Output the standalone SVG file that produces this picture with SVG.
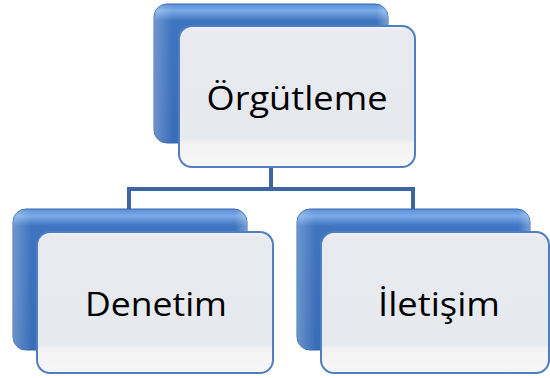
<svg xmlns="http://www.w3.org/2000/svg" width="550" height="378" viewBox="0 0 550 378">
<defs>
<linearGradient id="blueG" x1="0" y1="0" x2="0" y2="1">
<stop offset="0" stop-color="#5b8fd6"/>
<stop offset="0.05" stop-color="#7aaae6"/>
<stop offset="0.12" stop-color="#3f74c0"/>
<stop offset="1" stop-color="#3a6db8"/>
</linearGradient>
<linearGradient id="blueH" x1="0" y1="0" x2="1" y2="0">
<stop offset="0" stop-color="#ffffff" stop-opacity="0.25"/>
<stop offset="0.08" stop-color="#ffffff" stop-opacity="0"/>
<stop offset="0.95" stop-color="#ffffff" stop-opacity="0"/>
<stop offset="1" stop-color="#ffffff" stop-opacity="0.3"/>
</linearGradient>
<linearGradient id="frontG" x1="0" y1="0" x2="0" y2="1">
<stop offset="0" stop-color="#f2f3f6"/>
<stop offset="0.04" stop-color="#e8eaef"/>
<stop offset="0.8" stop-color="#e6e9ee"/>
<stop offset="0.83" stop-color="#f3f3f4"/>
<stop offset="1" stop-color="#f7f7f7"/>
</linearGradient>
</defs>
<style>
.back{fill:url(#blueG);stroke:#3567b0;stroke-width:1}
.backh{fill:url(#blueH);stroke:none}
.front{fill:url(#frontG);stroke:#4f7fc2;stroke-width:2}
.lbl{font-family:"Open Sans","Liberation Sans",sans-serif;font-size:32px;fill:#000;text-anchor:middle}
.conn{fill:none;stroke:#3e659f;stroke-width:4}
</style>
<g id="connectors">
<path class="conn" d="M271,167 V189 H129 V210"/>
<path class="conn" d="M271,189 H413 V210"/>
</g>
<g id="node-orgutleme">
<rect class="back" x="154" y="4" width="234" height="139" rx="13"/>
<rect class="backh" x="154" y="4" width="234" height="139" rx="13"/>
<rect class="front" x="179" y="26" width="236" height="141" rx="13"/>
<text class="lbl" x="297" y="110" textLength="181" lengthAdjust="spacingAndGlyphs">Örgütleme</text>
</g>
<g id="node-denetim">
<rect class="back" x="13" y="209" width="234" height="141" rx="13"/>
<rect class="backh" x="13" y="209" width="234" height="141" rx="13"/>
<rect class="front" x="37" y="232" width="236" height="141" rx="13"/>
<text class="lbl" x="156" y="316" textLength="142" lengthAdjust="spacingAndGlyphs">Denetim</text>
</g>
<g id="node-iletisim">
<rect class="back" x="297" y="209" width="233" height="141" rx="13"/>
<rect class="backh" x="297" y="209" width="233" height="141" rx="13"/>
<rect class="front" x="321" y="232" width="228" height="141" rx="13"/>
<text class="lbl" x="439" y="316" textLength="122" lengthAdjust="spacingAndGlyphs">İletişim</text>
</g>
</svg>
